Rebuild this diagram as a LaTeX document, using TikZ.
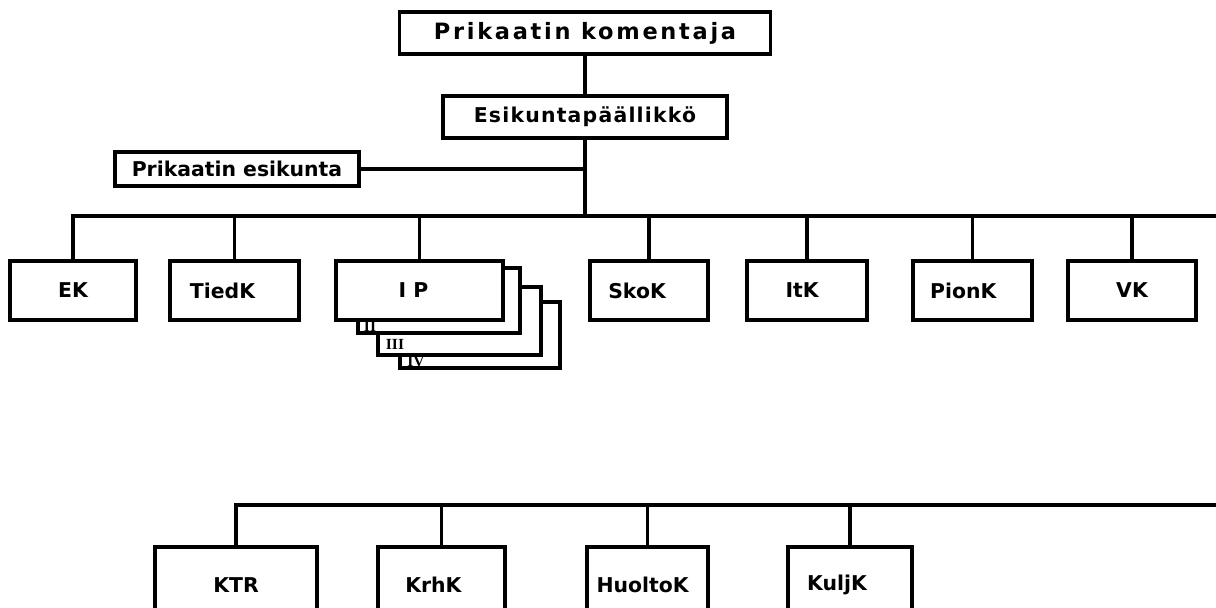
\documentclass[tikz,border=0pt]{standalone}
\usepackage{fontspec}
\setmainfont{DejaVu Sans}
\newfontfamily\romfont{Liberation Serif}
\usetikzlibrary{positioning}

\begin{document}
\begin{tikzpicture}[x=0.025cm,y=-0.025cm,
    unit/.style={draw, line width=2.4pt, inner sep=0pt, font=\fontsize{14.5}{16}\selectfont\bfseries},
    w/.style={minimum width=#1*0.025cm},
    h/.style={minimum height=#1*0.025cm},
    link/.style={line width=2.4pt},
    num/.style={inner sep=0pt, font=\romfont\fontsize{11}{11}\selectfont\bfseries}]
  \useasboundingbox (0,0) rectangle (1216,607);
  % command
  \node[unit, w=371, h=42, font=\fontsize{16}{18}\selectfont\bfseries] (kom) at (585,33) {\addfontfeature{LetterSpace=12}Prikaatin komentaja};
  \node[unit, w=284, h=42] (esk) at (585,117) {\addfontfeature{LetterSpace=6}Esikuntapäällikkö};
  \node[unit, w=244, h=34] (pek) at (237,169) {Prikaatin esikunta};
  \coordinate (bus) at (585,216);
  \coordinate (busend) at (1216,216);
  \draw[link] (kom) -- (esk);
  \draw[link] (esk) -- (bus);
  \draw[link] (pek) -- (pek -| bus);
  % units
  \node[unit, w=126, h=59] (ek) at (73,290.5) {EK};
  \node[unit, w=129, h=59] (tiedk) at (234.5,290.5) {TiedK\hspace*{17pt}};
  \node[unit, w=167, h=59] (ip) at (419.5,290.5) {I P\hspace*{8.5pt}};
  \node[unit, w=118, h=59] (skok) at (649,290.5) {SkoK\hspace*{17pt}};
  \node[unit, w=120, h=59] (itk) at (807,290.5) {ItK\hspace*{7pt}};
  \node[unit, w=119, h=59] (pionk) at (972.5,290.5) {PionK\hspace*{13pt}};
  \node[unit, w=128, h=59] (vk) at (1132,290.5) {VK};
  \draw[link] (ek.north) |- (busend);
  \foreach \n in {tiedk,ip,skok,itk,pionk,vk}
    \draw[link] (\n.north) -- (\n.north |- busend);
  % II-IV behind I P
  \foreach \l/\r/\t/\b/\pl/\pb in {358/520/268/333/503/320, 378/541/287/355/520/333, 400/560/302/368/541/355}
    \draw[link] (\pl,\t) -- (\r,\t) -- (\r,\b) -- (\l,\b) -- (\l,\pb);
  \node[num] (ii) at (370,326.5) {II};
  \node[num] (iii) at (395,344.5) {III};
  \node[num] (iv) at (416,361.5) {IV};
  % support
  \coordinate (lowend) at (1216,505);
  \node[unit, w=162, h=76] (ktr) at (236,585) {KTR};
  \node[unit, w=127, h=76] (krhk) at (441.5,585) {KrhK\hspace*{11.5pt}};
  \node[unit, w=121, h=76] (huoltok) at (647.5,585) {HuoltoK\hspace*{7pt}};
  \node[unit, w=124, h=76] (kuljk) at (850,585) {KuljK\hspace*{18.5pt}};
  \draw[link] (ktr.north) |- (lowend);
  \foreach \n in {krhk,huoltok,kuljk}
    \draw[link] (\n.north) -- (\n.north |- lowend);
\end{tikzpicture}
\end{document}
